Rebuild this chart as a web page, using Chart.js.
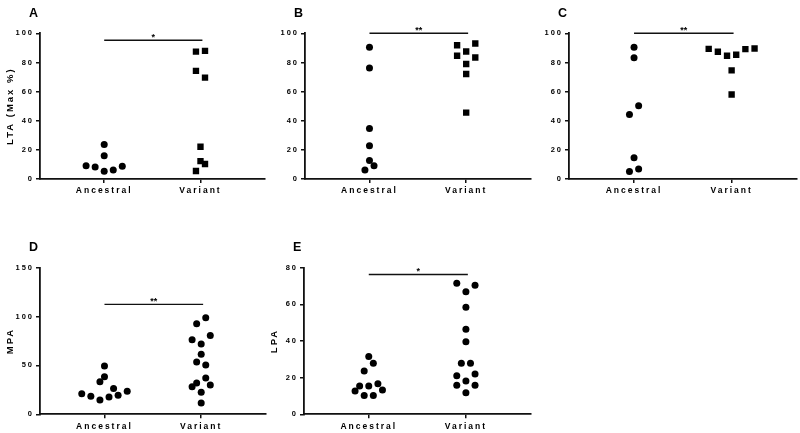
<!DOCTYPE html>
<html>
<head>
<meta charset="utf-8">
<script src="https://cdn.jsdelivr.net/npm/chart.js@4.4.0/dist/chart.umd.min.js"></script>
<style>
  html, body { margin: 0; padding: 0; background: #fff; overflow: hidden; }
  #wrap { position: relative; width: 800px; height: 433px; }
  canvas { position: absolute; }
</style>
</head>
<body>
<div id="wrap">
  <canvas id="panelA"></canvas>
  <canvas id="panelB"></canvas>
  <canvas id="panelC"></canvas>
  <canvas id="panelD"></canvas>
  <canvas id="panelE"></canvas>
</div>
<script>
// Groups on the x axis
const groups = ['Ancestral', 'Variant'];

// A - LTA (Max %)
const ltaAncestral = [9.1, 8.2, 23.7, 16.0, 5.3, 6.2, 8.7];
const ltaAncestralJitter = [-4, -2, 0, 0, 0, 2, 4];
const ltaVariant = [87.4, 87.9, 74.2, 69.6, 22.1, 12.3, 10.3, 5.5];
const ltaVariantJitter = [-1, 1, -1, 1, 0, 0, 1, -1];

// B
const bAncestral = [90.5, 76.2, 34.7, 22.9, 12.7, 6.1, 9.1];
const bAncestralJitter = [0, 0, 0, 0, 0, -1, 1];
const bVariant = [91.8, 93.0, 84.6, 87.5, 83.4, 78.9, 72.1, 45.6];
const bVariantJitter = [-2, 2, -2, 0, 2, 0, 0, 0];

// C
const cAncestral = [90.5, 83.2, 50.3, 44.2, 14.5, 5.2, 6.8];
const cAncestralJitter = [0, 0, 1, -1, 0, -1, 1];
const cVariant = [89.3, 87.3, 84.6, 85.3, 89.1, 89.6, 74.6, 58.0];
const cVariantJitter = [-5, -3, -1, 1, 3, 5, 0, 0];

// D - MPA
const mpaAncestral = [21.1, 18.4, 14.7, 33.4, 38.5, 49.4, 17.7, 26.3, 19.4, 23.5];
const mpaAncestralJitter = [-5, -3, -1, -1, 0, 0, 1, 2, 3, 5];
const mpaVariant = [98.9, 92.7, 80.5, 76.4, 71.9, 61.4, 53.5, 50.5, 37.2, 32.0, 28.3, 30.0, 22.5, 11.6];
const mpaVariantJitter = [1, -1, 2, -2, 0, 0, -1, 1, 1, -1, -2, 2, 0, 0];

// E - LPA
const lpaAncestral = [12.7, 15.5, 23.6, 10.2, 15.5, 31.5, 27.8, 10.2, 16.7, 13.3];
const lpaAncestralJitter = [-3, -2, -1, -1, 0, 0, 1, 1, 2, 3];
const lpaVariant = [71.5, 70.4, 66.9, 58.4, 46.4, 39.6, 27.8, 27.8, 21.1, 22.0, 18.2, 15.8, 15.8, 11.8];
const lpaVariantJitter = [-2, 2, 0, 0, 0, 0, -1, 1, -2, 2, 0, -2, 2, 0];

// Significance bars (height in axis units) and labels
const sigHeights = [95.2, 100, 100, 112.5, 76.3];
const sigLabels = ['*', '**', '**', '**', '*'];

// width of one jitter step, in category units
const LANE = 0.047;
const FONT = '"Liberation Sans", Arial, sans-serif';
const INK = '#111';

// draws the panel letter and the significance bar
const panelDecor = {
    id: 'panelDecor',
    beforeDraw(chart) {
        chart.ctx.letterSpacing = '2px';
    },
    afterDraw(chart, args, opts) {
        const { ctx, chartArea, scales } = chart;
        ctx.save();
        ctx.letterSpacing = '0px';
        ctx.fillStyle = '#000';
        ctx.font = 'bold 12.5px ' + FONT;
        ctx.textAlign = 'left';
        ctx.textBaseline = 'alphabetic';
        ctx.fillText(opts.letter, chartArea.left - 11, chartArea.top - 16.5);

        const y = scales.y.getPixelForValue(opts.sigY);
        const x1 = scales.x.getPixelForValue(1);
        const x2 = scales.x.getPixelForValue(2.02);
        ctx.strokeStyle = INK;
        ctx.lineWidth = 1.4;
        ctx.beginPath();
        ctx.moveTo(x1, y);
        ctx.lineTo(x2, y);
        ctx.stroke();

        ctx.font = 'bold 9px ' + FONT;
        ctx.textAlign = 'center';
        ctx.fillText(opts.stars, (x1 + x2) / 2, y - 0.5);
        ctx.restore();
    }
};

function toPoints(values, jitter, center) {
    return values.map((v, i) => ({ x: center + jitter[i] * LANE, y: v }));
}

function makePanel(p) {
    const canvas = document.getElementById(p.id);
    const width = Math.round(p.right - p.axisX) + 45;
    canvas.width = width;
    canvas.height = p.canvasH;
    canvas.style.left = (p.axisX - 40) + 'px';
    canvas.style.top = p.canvasTop + 'px';
    const padTop = p.top - p.canvasTop;
    const xHeight = p.canvasH - (p.bottom - p.canvasTop);

    new Chart(canvas, {
        type: 'scatter',
        data: {
            datasets: [
                {
                    data: toPoints(p.anc, p.ancJitter, 1),
                    pointStyle: 'circle',
                    pointRadius: 3.5,
                    backgroundColor: '#000',
                    borderWidth: 0
                },
                {
                    data: toPoints(p.vari, p.variJitter, 2),
                    pointStyle: p.variStyle,
                    pointRadius: p.variStyle === 'rect' ? 4.5 : 3.5,
                    backgroundColor: '#000',
                    borderWidth: 0
                }
            ]
        },
        options: {
            responsive: false,
            animation: false,
            events: [],
            layout: { padding: { top: padTop, right: 5, left: 0, bottom: 0 } },
            plugins: {
                legend: { display: false },
                tooltip: { enabled: false },
                panelDecor: { letter: p.letter, sigY: p.sigY, stars: p.stars }
            },
            scales: {
                x: {
                    type: 'linear',
                    min: 1 / 3,
                    max: 2.67,
                    afterBuildTicks: axis => { axis.ticks = [{ value: 1 }, { value: 2 }]; },
                    afterFit: axis => { axis.height = xHeight; },
                    grid: { drawOnChartArea: false, drawTicks: true, tickLength: 4, color: INK, lineWidth: 1.5 },
                    border: { color: INK, width: 1.8 },
                    ticks: {
                        callback: v => groups[v - 1],
                        color: '#000',
                        font: { family: FONT, size: 8.5, weight: 'bold' },
                        padding: 3,
                        maxRotation: 0
                    }
                },
                y: {
                    min: 0,
                    max: p.yMax,
                    afterFit: axis => { axis.width = 40; },
                    grid: { drawOnChartArea: false, drawTicks: true, tickLength: 4, color: INK, lineWidth: 1.5 },
                    border: { color: INK, width: 1.8 },
                    ticks: {
                        stepSize: p.yStep,
                        color: '#000',
                        font: { family: FONT, size: 7.5, weight: 'bold' },
                        padding: 2
                    },
                    title: {
                        display: !!p.yTitle,
                        text: p.yTitle,
                        color: '#000',
                        font: { family: FONT, size: 9.5, weight: 'bold' },
                        padding: { top: 4.5, bottom: 0 }
                    }
                }
            }
        },
        plugins: [panelDecor]
    });
}

makePanel({ id: 'panelA', letter: 'A', yTitle: 'LTA (Max %)', yMax: 100, yStep: 20,
    axisX: 40, right: 265, top: 33.3, bottom: 179, canvasTop: 0, canvasH: 207,
    anc: ltaAncestral, ancJitter: ltaAncestralJitter, vari: ltaVariant, variJitter: ltaVariantJitter,
    variStyle: 'rect', sigY: sigHeights[0], stars: sigLabels[0] });

makePanel({ id: 'panelB', letter: 'B', yTitle: '', yMax: 100, yStep: 20,
    axisX: 305, right: 531, top: 33.3, bottom: 179, canvasTop: 0, canvasH: 207,
    anc: bAncestral, ancJitter: bAncestralJitter, vari: bVariant, variJitter: bVariantJitter,
    variStyle: 'rect', sigY: sigHeights[1], stars: sigLabels[1] });

makePanel({ id: 'panelC', letter: 'C', yTitle: '', yMax: 100, yStep: 20,
    axisX: 569, right: 797, top: 33.3, bottom: 179, canvasTop: 0, canvasH: 207,
    anc: cAncestral, ancJitter: cAncestralJitter, vari: cVariant, variJitter: cVariantJitter,
    variStyle: 'rect', sigY: sigHeights[2], stars: sigLabels[2] });

makePanel({ id: 'panelD', letter: 'D', yTitle: 'MPA', yMax: 150, yStep: 50,
    axisX: 40, right: 266, top: 267.7, bottom: 414.3, canvasTop: 216, canvasH: 217,
    anc: mpaAncestral, ancJitter: mpaAncestralJitter, vari: mpaVariant, variJitter: mpaVariantJitter,
    variStyle: 'circle', sigY: sigHeights[3], stars: sigLabels[3] });

makePanel({ id: 'panelE', letter: 'E', yTitle: 'LPA', yMax: 80, yStep: 20,
    axisX: 304, right: 531, top: 267.7, bottom: 414.3, canvasTop: 216, canvasH: 217,
    anc: lpaAncestral, ancJitter: lpaAncestralJitter, vari: lpaVariant, variJitter: lpaVariantJitter,
    variStyle: 'circle', sigY: sigHeights[4], stars: sigLabels[4] });
</script>
</body>
</html>
